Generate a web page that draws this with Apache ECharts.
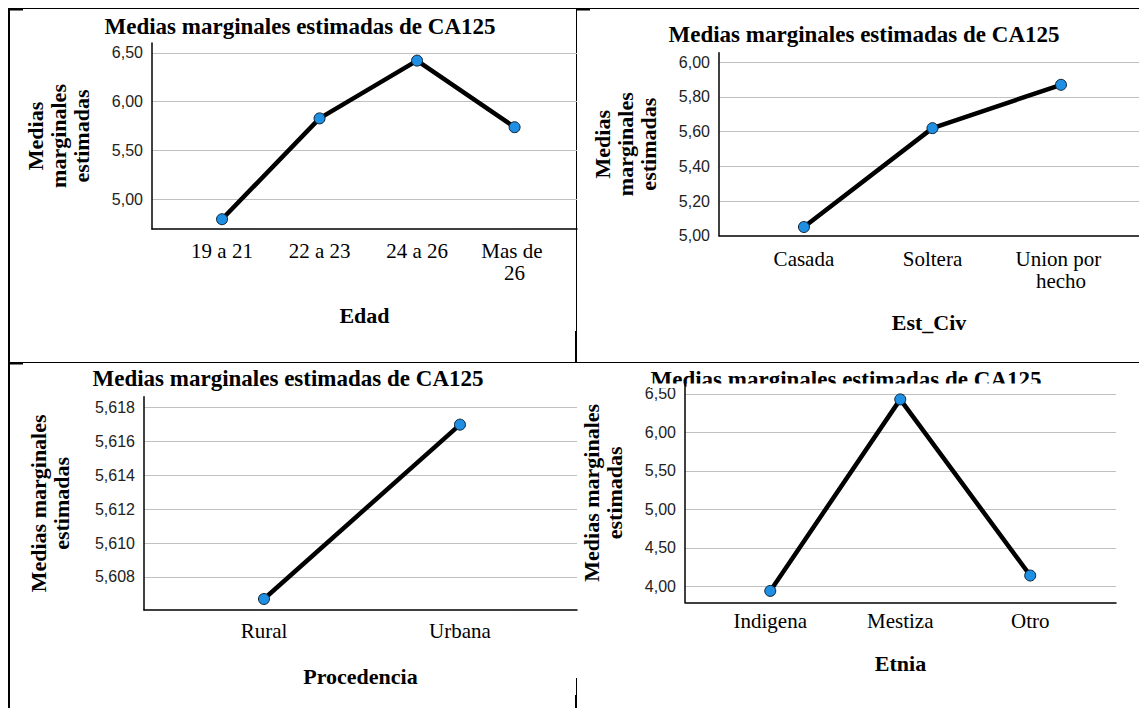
<!DOCTYPE html>
<html>
<head>
<meta charset="utf-8">
<script src="https://cdn.jsdelivr.net/npm/echarts@6/dist/echarts.min.js"></script>
<style>
html,body{margin:0;padding:0;background:#fff;}
#chart{width:1139px;height:708px;}
</style>
</head>
<body>
<div id="chart"></div>
<script>
// ---- data ----
const chartTitle = 'Medias marginales estimadas de CA125';
const yAxisTitle3 = 'Medias\nmarginales\nestimadas';
const yAxisTitle2 = 'Medias marginales\nestimadas';

const edadCategories = ['19 a 21', '22 a 23', '24 a 26', 'Mas de 26'];
const edadMeans = [4.80, 5.83, 6.42, 5.74];
const edadTicks = [5.00, 5.50, 6.00, 6.50];

const estCivCategories = ['Casada', 'Soltera', 'Union por hecho'];
const estCivMeans = [5.05, 5.62, 5.87];
const estCivTicks = [5.00, 5.20, 5.40, 5.60, 5.80, 6.00];

const procedenciaCategories = ['Rural', 'Urbana'];
const procedenciaMeans = [5.6067, 5.6170];
const procedenciaTicks = [5.608, 5.610, 5.612, 5.614, 5.616, 5.618];

const etniaCategories = ['Indigena', 'Mestiza', 'Otro'];
const etniaMeans = [3.94, 6.43, 4.14];
const etniaTicks = [4.00, 4.50, 5.00, 5.50, 6.00, 6.50];

// ---- layout (positions / styles) ----
const panels = [
  {cats: edadCategories, vals: edadMeans, ticks: edadTicks, dec: 2, step: 0.5,
   xName: 'Edad', yName: yAxisTitle3,
   grid: {left: 152, top: 43, width: 425, height: 186},
   xr: [-0.718, 3.64], yr: [4.70, 6.60],
   titleX: 300, titleTop: 14.5, xGap: 75, yGap: 59, labelMargin: 11, labelWidth: 80},
  {cats: estCivCategories, vals: estCivMeans, ticks: estCivTicks, dec: 2, step: 0.2,
   xName: 'Est_Civ', yName: yAxisTitle3,
   grid: {left: 719, top: 52.7, width: 420, height: 183},
   xr: [-0.661, 2.607], yr: [5.00, 6.055],
   titleX: 864, titleTop: 22.5, xGap: 76, yGap: 59, labelMargin: 12, labelWidth: 100},
  {cats: procedenciaCategories, vals: procedenciaMeans, ticks: procedenciaTicks, dec: 3, step: 0.002,
   xName: 'Procedencia', yName: yAxisTitle2,
   grid: {left: 144, top: 396.7, width: 433, height: 213.3},
   xr: [-0.612, 1.597], yr: [5.60605, 5.61865],
   titleX: 288, titleTop: 366.5, xGap: 55, yGap: 71, labelMargin: 10, labelWidth: 100},
  {cats: etniaCategories, vals: etniaMeans, ticks: etniaTicks, dec: 2, step: 0.5,
   xName: 'Etnia', yName: yAxisTitle2,
   grid: {left: 685, top: 383.3, width: 431, height: 219},
   xr: [-0.656, 2.66], yr: [3.792, 6.639],
   titleX: 846, titleTop: 367.5, xGap: 50, yGap: 59, labelMargin: 8, labelWidth: 100}
];

const serif = '"Liberation Serif", "Times New Roman", serif';
const sans = '"Liberation Sans", Arial, sans-serif';

const option = {
  backgroundColor: '#ffffff',
  animation: false,
  title: panels.map(p => ({
    text: chartTitle, left: p.titleX, top: p.titleTop, textAlign: 'center', padding: 0,
    textStyle: {fontFamily: serif, fontWeight: 'bold', fontSize: 23, color: '#000', lineHeight: 23}
  })),
  grid: panels.map(p => Object.assign({containLabel: false}, p.grid)),
  xAxis: panels.map((p, gi) => ({
    type: 'value', gridIndex: gi, min: p.xr[0], max: p.xr[1],
    name: p.xName, nameLocation: 'middle', nameGap: p.xGap,
    nameTextStyle: {fontFamily: serif, fontWeight: 'bold', fontSize: 22, color: '#000', lineHeight: 22},
    axisLine: {show: true, onZero: false, lineStyle: {color: '#000', width: 1.5}},
    axisTick: {show: false},
    splitLine: {show: false},
    axisLabel: {
      customValues: p.cats.map((c, i) => i),
      formatter: v => (p.cats[Math.round(v)] !== undefined && Math.abs(v - Math.round(v)) < 1e-6) ? p.cats[Math.round(v)] : '',
      margin: p.labelMargin, fontFamily: serif, fontSize: 21, color: '#000', lineHeight: 22,
      width: p.labelWidth, overflow: 'break', align: 'center'
    }
  })),
  yAxis: panels.map((p, gi) => ({
    type: 'value', gridIndex: gi, min: p.yr[0], max: p.yr[1],
    minInterval: p.step, maxInterval: p.step,
    name: p.yName, nameLocation: 'middle', nameGap: p.yGap, nameRotate: 90,
    nameTextStyle: {fontFamily: serif, fontWeight: 'bold', fontSize: 22, color: '#000', lineHeight: 23, align: 'center'},
    axisLine: {show: true, onZero: false, lineStyle: {color: '#000', width: 1.5}},
    axisTick: {show: false},
    splitLine: {show: true, showMinLine: false, showMaxLine: false, lineStyle: {color: '#c0c0c0', width: 1.2}},
    axisLabel: {
      margin: 9, fontFamily: sans, fontSize: 16, color: '#222',
      formatter: v => p.ticks.some(t => Math.abs(t - v) < p.step * 1e-3) ? v.toFixed(p.dec).replace('.', ',') : ''
    }
  })),
  series: panels.map((p, gi) => ({
    type: 'line', xAxisIndex: gi, yAxisIndex: gi,
    data: p.vals.map((v, i) => [i, v]),
    symbol: 'circle', symbolSize: 11,
    lineStyle: {color: '#000', width: 4.5},
    itemStyle: {color: '#1f8fe3', borderColor: '#0d2236', borderWidth: 1},
    z: 3
  })),
  graphic: [
    // table borders
    {type: 'rect', shape: {x: 8, y: 8, width: 2, height: 700}, style: {fill: '#000'}, silent: true},
    {type: 'rect', shape: {x: 8, y: 8, width: 1131, height: 1}, style: {fill: '#000'}, silent: true},
    {type: 'rect', shape: {x: 8, y: 8, width: 15, height: 2.5}, style: {fill: '#000'}, silent: true},
    {type: 'rect', shape: {x: 576, y: 8, width: 14, height: 2.5}, style: {fill: '#000'}, silent: true},
    {type: 'rect', shape: {x: 576, y: 8, width: 1, height: 354}, style: {fill: '#000'}, silent: true},
    {type: 'rect', shape: {x: 575, y: 331, width: 2, height: 31}, style: {fill: '#000'}, silent: true},
    {type: 'rect', shape: {x: 8, y: 362, width: 1131, height: 1}, style: {fill: '#000'}, silent: true},
    {type: 'rect', shape: {x: 8, y: 362, width: 15, height: 2.5}, style: {fill: '#000'}, silent: true},
    {type: 'rect', shape: {x: 576, y: 678, width: 1, height: 30}, style: {fill: '#000'}, silent: true},
    {type: 'rect', shape: {x: 575, y: 695, width: 2, height: 13}, style: {fill: '#000'}, silent: true},
    // clipped lower edge of the fourth title
    {type: 'rect', z: 100, shape: {x: 650, y: 383.5, width: 33.5, height: 4.5}, style: {fill: '#fff'}, silent: true},
    {type: 'rect', z: 100, shape: {x: 686.5, y: 383.5, width: 360, height: 9}, style: {fill: '#fff'}, silent: true}
  ]
};

const chart = echarts.init(document.getElementById('chart'), null, {renderer: 'svg'});
chart.setOption(option);
</script>
</body>
</html>
